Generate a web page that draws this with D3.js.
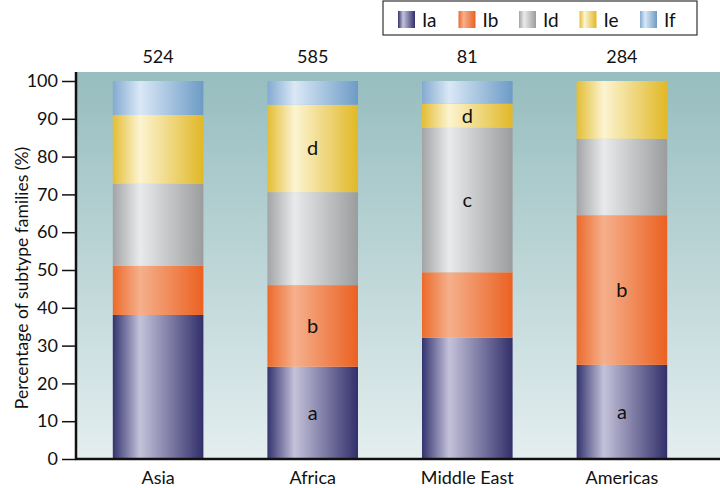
<!DOCTYPE html>
<html>
<head>
<meta charset="utf-8">
<script src="https://cdn.jsdelivr.net/npm/d3@7"></script>
<style>
  body { margin: 0; background: #fff; }
  svg text { font-family: "Lato", "Open Sans", sans-serif; fill: #111; }
</style>
</head>
<body>
<div id="chart"></div>
<script>
// data
var regions  = ['Asia', 'Africa', 'Middle East', 'Americas'];
var counts   = [524, 585, 81, 284];
var subtypes = ['Ia', 'Ib', 'Id', 'Ie', 'If'];

// percent per subtype, one entry per region
var Ia = [38.1, 24.4, 32.1, 24.9];
var Ib = [13.0, 21.6, 17.3, 39.6];
var Id = [21.7, 24.6, 38.2, 20.2];
var Ie = [18.2, 23.1, 6.4, 15.3];
var If = [9.0, 6.3, 6.0, 0.0];

// letter marks shown inside segments
var segLabels = [
    {},
    {Ia: 'a', Ib: 'b', Ie: 'd'},
    {Id: 'c', Ie: 'd'},
    {Ia: 'a', Ib: 'b'}
];

var yTicks = [0, 10, 20, 30, 40, 50, 60, 70, 80, 90, 100];

// gradient stops per subtype: left edge, highlight, right edge
var colours = {
    Ia: ['#34336f', '#c4c2da', '#322f6b'],
    Ib: ['#ec6a2a', '#f5b08c', '#eb6121'],
    Id: ['#a3a4a6', '#e9eaeb', '#9b9c9e'],
    Ie: ['#e3bd33', '#fcf4d2', '#e1b826'],
    If: ['#84aad0', '#dae8f6', '#6d9bc6']
};

// size setup
var width = 720, height = 488;
var plot = {left: 76, right: 720, top: 72, bottom: 459};

var svg = d3.select('#chart').append('svg')
    .attr('width', width)
    .attr('height', height);

var defs = svg.append('defs');

// panel background gradient
var bg = defs.append('linearGradient')
    .attr('id', 'bg').attr('x1', 0).attr('y1', 0).attr('x2', 0).attr('y2', 1);
bg.append('stop').attr('offset', '0%').attr('stop-color', '#96bdbf');
bg.append('stop').attr('offset', '100%').attr('stop-color', '#e4eeef');

subtypes.forEach(function(s){
    var g = defs.append('linearGradient')
        .attr('id', 'g' + s).attr('x1', 0).attr('y1', 0).attr('x2', 1).attr('y2', 0);
    g.append('stop').attr('offset', '0%').attr('stop-color', colours[s][0]);
    g.append('stop').attr('offset', '30%').attr('stop-color', colours[s][1]);
    g.append('stop').attr('offset', '100%').attr('stop-color', colours[s][2]);
});

// scales
var xScale = d3.scaleBand().domain(regions)
    .range([plot.left, 704]).paddingInner(0.414).paddingOuter(0.238);
var yScale = d3.scaleLinear().domain([0, 100]).range([plot.bottom, 81]);

// stacked table
var table = regions.map(function(r, i){
    return {region: r, Ia: Ia[i], Ib: Ib[i], Id: Id[i], Ie: Ie[i], If: If[i]};
});
var series = d3.stack().keys(subtypes)(table);

// panel
svg.append('rect')
    .attr('x', plot.left).attr('y', plot.top)
    .attr('width', plot.right - plot.left).attr('height', plot.bottom - plot.top)
    .attr('fill', 'url(#bg)');

// bars
var layers = svg.selectAll('g.layer')
    .data(series)
    .enter().append('g')
    .attr('class', 'layer')
    .attr('fill', function(d){ return 'url(#g' + d.key + ')'; });

layers.selectAll('rect')
    .data(function(d){ return d; })
    .enter().append('rect')
    .attr('x', function(d){ return xScale(d.data.region); })
    .attr('width', xScale.bandwidth())
    .attr('y', function(d){ return yScale(d[1]); })
    .attr('height', function(d){ return yScale(d[0]) - yScale(d[1]); });

// segment letters
series.forEach(function(s){
    s.forEach(function(d, i){
        var lab = segLabels[i][s.key];
        if(!lab) return;
        svg.append('text')
            .attr('x', xScale(d.data.region) + xScale.bandwidth() / 2)
            .attr('y', yScale((d[0] + d[1]) / 2))
            .attr('dy', '0.35em')
            .attr('text-anchor', 'middle')
            .style('font-size', '20px')
            .text(lab);
    });
});

// counts above bars
svg.selectAll('text.count')
    .data(regions)
    .enter().append('text')
    .attr('class', 'count')
    .attr('x', function(d){ return xScale(d) + xScale.bandwidth() / 2; })
    .attr('y', 63)
    .attr('text-anchor', 'middle')
    .style('font-size', '18px')
    .text(function(d, i){ return counts[i]; });

// axes
var yAxis = d3.axisLeft(yScale).tickValues(yTicks).tickSize(14).tickPadding(4);
var axiY = svg.append('g')
    .attr('transform', 'translate(' + plot.left + ',0)')
    .call(yAxis);
axiY.select('.domain').remove();
axiY.selectAll('line').attr('stroke', '#111').attr('stroke-width', 1.5);
axiY.selectAll('text').style('font-size', '18px').attr('fill', '#111');

var xAxis = d3.axisBottom(xScale).tickSize(0).tickPadding(12);
var axiX = svg.append('g')
    .attr('transform', 'translate(0,' + plot.bottom + ')')
    .call(xAxis);
axiX.select('.domain').remove();
axiX.selectAll('text').style('font-size', '18px').attr('fill', '#111');

svg.append('line')
    .attr('x1', plot.left).attr('x2', plot.left)
    .attr('y1', plot.top).attr('y2', plot.bottom + 1)
    .attr('stroke', '#111').attr('stroke-width', 2.5);
svg.append('line')
    .attr('x1', plot.left - 1).attr('x2', plot.right)
    .attr('y1', plot.bottom).attr('y2', plot.bottom)
    .attr('stroke', '#111').attr('stroke-width', 2.5);

// y title
svg.append('text')
    .attr('transform', 'translate(22,' + 278 + ') rotate(-90)')
    .attr('text-anchor', 'middle')
    .attr('dy', '0.35em')
    .style('font-size', '17.5px')
    .text('Percentage of subtype families (%)');

// legend
var legend = svg.append('g').attr('transform', 'translate(383,1)');
legend.append('rect')
    .attr('width', 314).attr('height', 34)
    .attr('fill', '#fff').attr('stroke', '#333').attr('stroke-width', 1.2);

var legItems = legend.selectAll('g.item')
    .data(subtypes)
    .enter().append('g')
    .attr('class', 'item')
    .attr('transform', function(d, i){ return 'translate(' + (15 + i * 60.5) + ',10)'; });
legItems.append('rect')
    .attr('width', 17).attr('height', 17)
    .attr('fill', function(d){ return 'url(#g' + d + ')'; });
legItems.append('text')
    .attr('x', 24).attr('y', 9).attr('dy', '0.35em')
    .style('font-size', '19px')
    .text(function(d){ return d; });
</script>
</body>
</html>
